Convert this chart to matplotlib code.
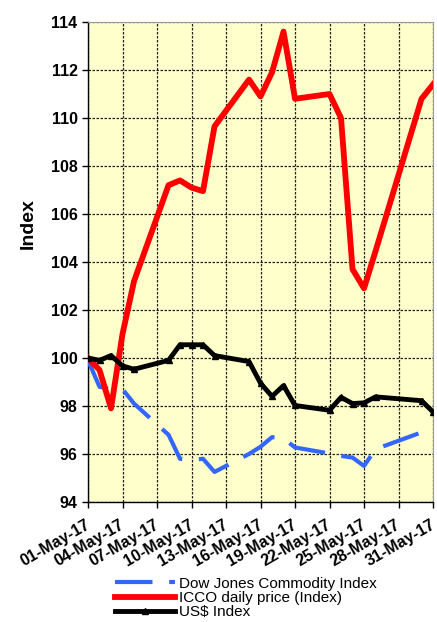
import datetime as dt
import matplotlib
matplotlib.use('Agg')
from matplotlib import pyplot as plt
import matplotlib.dates as mdates
import matplotlib.transforms as mtransforms

plt.rcParams['font.family'] = ['Liberation Sans', 'DejaVu Sans']

# values (index, 1 May 2017 = 100)
icco_days = [1, 2, 3, 4, 5, 8, 9, 10, 11, 12, 15, 16, 17, 18, 19, 22, 23, 24, 25, 26, 30, 31]
icco_vals = [100.0, 99.5, 97.9, 101.0, 103.2, 107.2, 107.4, 107.1, 106.95, 109.65, 111.6, 110.9,
             111.9, 113.6, 110.8, 111.0, 110.0, 103.7, 102.9, 104.45, 110.8, 111.4]

dj_days = [1, 2, 3, 4, 5, 8, 9, 10, 11, 12, 15, 16, 17, 18, 19, 22, 23, 24, 25, 26, 30, 31]
dj_vals = [99.9, 98.8, 98.7, 98.7, 98.1, 96.8, 95.8, 95.75, 95.8, 95.25, 96.0, 96.3,
           96.7, 96.65, 96.27, 96.02, 95.92, 95.85, 95.5, 96.2, 96.9, 97.1]

usd_days = [1, 2, 3, 4, 5, 8, 9, 10, 11, 12, 15, 16, 17, 18, 19, 22, 23, 24, 25, 26, 30, 31]
usd_vals = [100.0, 99.9, 100.1, 99.67, 99.53, 99.9, 100.55, 100.55, 100.55, 100.1, 99.85, 98.95,
            98.4, 98.85, 98.02, 97.82, 98.36, 98.1, 98.13, 98.38, 98.22, 97.75]

y_ticks = list(range(94, 115, 2))

def to_dates(days):
    return [dt.date(2017, 5, d) for d in days]

fig = plt.figure(figsize=(4.37, 6.22), dpi=100)
ax = fig.add_axes([0.2014, 0.193, 0.7895, 0.7716])
ax.set_facecolor('#FFFFCC')

ax.plot(to_dates(dj_days), dj_vals, color='#3366FF', lw=3, dashes=(9, 4),
        label='Dow Jones Commodity Index', zorder=3)
ax.plot(to_dates(icco_days), icco_vals, color='#FF0000', lw=4.2,
        label='ICCO daily price (Index)', zorder=4)
ax.plot(to_dates(usd_days), usd_vals, color='black', lw=3.5, marker='^', ms=5,
        label='US$ Index', zorder=5)

ax.set_ylim(94, 114)
ax.set_yticks(y_ticks)
ax.set_xlim(dt.date(2017, 5, 1), dt.date(2017, 5, 31))
ax.xaxis.set_major_locator(mdates.DayLocator(bymonthday=[1, 4, 7, 10, 13, 16, 19, 22, 25, 28, 31]))
ax.xaxis.set_major_formatter(mdates.DateFormatter('%d-%b-%y'))

ax.grid(True, color='#222222', lw=0.9, linestyle=(0, (2, 1.2)))
ax.set_axisbelow(True)
for s in ['top', 'right']:
    ax.spines[s].set_color('#999999')
for s in ['left', 'bottom']:
    ax.spines[s].set_color('black')
    ax.spines[s].set_linewidth(1.0)

ax.tick_params(axis='both', direction='out', length=4, width=1, labelsize=11.5)
ax.tick_params(axis='x', pad=7)
shift = mtransforms.ScaledTranslation(-3 / 100, 0, fig.dpi_scale_trans)
for lab in ax.get_yticklabels():
    lab.set_fontweight('bold')
for lab in ax.get_xticklabels():
    lab.set_fontweight('bold')
    lab.set_rotation(30)
    lab.set_ha('right')
    lab.set_va('top')
    lab.set_rotation_mode('anchor')
    lab.set_transform(lab.get_transform() + shift)

ax.set_ylabel('Index', fontsize=14, fontweight='bold')
ax.yaxis.set_label_coords(-0.148, 0.58)

fig.legend(loc='upper left', bbox_to_anchor=(0.263, 0.073), frameon=False,
           borderpad=0, borderaxespad=0, handlelength=3.9, handletextpad=0.3,
           labelspacing=0.02, fontsize=11)

fig.savefig('out.png', dpi=100)
